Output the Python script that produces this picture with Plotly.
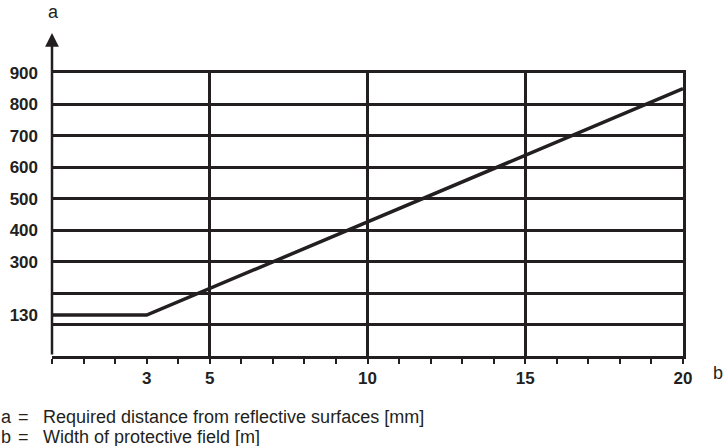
import plotly.graph_objects as go

# Data
width_b = [0, 3, 20]
distance_a = [130, 130, 850]

x_label_vals = [3, 5, 10, 15, 20]
x_grid_vals = [5, 10, 15]
y_label_vals = [130, 300, 400, 500, 600, 700, 800, 900]
y_grid_vals = [100, 200, 300, 400, 500, 600, 700, 800]

legend_keys = ["a", "b"]
legend_texts = ["Required distance from reflective surfaces [mm]",
                "Width of protective field [m]"]

INK = "#231f20"
FONT = "Liberation Sans, Arial, Helvetica, sans-serif"

# pixel helpers for the plot area (l=52, t=73, w=631, h=283)
L, T, W, H = 52, 73, 631, 283
def px(x):
    return (x - L) / W
def py(y):
    return (T + H - y) / H

fig = go.Figure()

# invisible trace to attach grid axes
fig.add_trace(go.Scatter(x=[0, 20], y=[0, 900], mode="markers",
                         marker=dict(opacity=0), xaxis="x2", yaxis="y2",
                         showlegend=False, hoverinfo="skip"))

fig.add_trace(go.Scatter(x=width_b, y=distance_a, mode="lines",
                         line=dict(color=INK, width=3.5),
                         showlegend=False))

fig.update_layout(
    width=725, height=446,
    margin=dict(l=L, r=725 - L - W, t=T, b=446 - T - H),
    paper_bgcolor="white", plot_bgcolor="white",
    font=dict(family=FONT, color=INK),
    xaxis=dict(range=[0, 20], tickvals=x_label_vals,
               ticktext=[str(v) for v in x_label_vals],
               tickfont=dict(size=17, family=FONT, color=INK, weight="bold"),
               ticks="outside", ticklen=5, tickwidth=2, tickcolor=INK,
               minor=dict(dtick=1, tick0=0, ticks="outside", ticklen=5,
                          tickwidth=2, tickcolor=INK, showgrid=False),
               showgrid=False, zeroline=False,
               showline=True, linecolor=INK, linewidth=3,
               fixedrange=True, automargin=False),
    yaxis=dict(range=[0, 900], tickvals=y_label_vals,
               ticktext=[str(v) for v in y_label_vals],
               tickfont=dict(size=17, family=FONT, color=INK, weight="bold"),
               ticks="", ticklabelstandoff=13,
               showgrid=False, zeroline=False, showline=False,
               fixedrange=True, automargin=False),
    xaxis2=dict(range=[0, 20], overlaying="x", side="top", tickvals=x_grid_vals,
                showticklabels=False, ticks="", showgrid=True,
                gridcolor=INK, gridwidth=2.5, zeroline=False,
                showline=True, linecolor=INK, linewidth=2.5,
                fixedrange=True, automargin=False),
    yaxis2=dict(range=[0, 900], overlaying="y", side="right", tickvals=y_grid_vals,
                showticklabels=False, ticks="", showgrid=True,
                gridcolor=INK, gridwidth=2.5, zeroline=False,
                showline=True, linecolor=INK, linewidth=2.5,
                fixedrange=True, automargin=False),
)

# y axis with arrow
fig.add_annotation(xref="x domain", yref="y domain", x=0, y=py(33),
                   axref="x domain", ayref="y domain", ax=0, ay=0,
                   showarrow=True, arrowhead=2, arrowsize=1.1,
                   arrowwidth=2.5, arrowcolor=INK, text="")

# axis letters
fig.add_annotation(xref="paper", yref="paper", x=px(53), y=py(12),
                   text="a", showarrow=False, xanchor="center", yanchor="middle",
                   font=dict(size=18, family=FONT, color=INK))
fig.add_annotation(xref="paper", yref="paper", x=px(711), y=py(373),
                   text="b", showarrow=False, xanchor="left", yanchor="middle",
                   font=dict(size=18, family=FONT, color=INK))

# explanation lines
for i, (k, t) in enumerate(zip(legend_keys, legend_texts)):
    yy = py(417 + i * 20)
    fig.add_annotation(xref="paper", yref="paper", x=px(-1), y=yy, text=k,
                       showarrow=False, xanchor="left", yanchor="middle",
                       font=dict(size=18, family=FONT, color=INK))
    fig.add_annotation(xref="paper", yref="paper", x=px(23), y=yy, text="=",
                       showarrow=False, xanchor="center", yanchor="middle",
                       font=dict(size=18, family=FONT, color=INK))
    fig.add_annotation(xref="paper", yref="paper", x=px(41), y=yy, text=t,
                       showarrow=False, xanchor="left", yanchor="middle",
                       font=dict(size=18, family=FONT, color=INK))

fig.write_html("out.html", config={"displayModeBar": False},
               post_script="document.body.style.margin='0';document.body.style.overflow='hidden';")
